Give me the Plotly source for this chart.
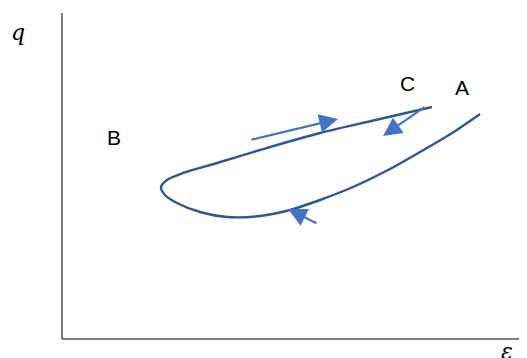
import plotly.graph_objects as go

# Loop curve (epsilon, q) in chart units, from A end round through B to C end
curve_eps = [418, 391, 358, 325, 291, 258, 228, 198, 165, 138, 115, 103, 99, 105, 121, 155, 198, 258, 318, 370]
curve_q = [225, 206.5, 187, 168.5, 152, 139, 129, 123, 122, 127, 136, 144, 152, 159, 166, 176, 189, 206, 220, 232]

# Direction arrows: tail -> head
arrow_tail_eps = [188, 364, 256]
arrow_tail_q = [199, 233, 115]
arrow_head_eps = [276, 321, 226]
arrow_head_q = [220, 203, 130]

# Point labels
label_text = ["A", "B", "C"]
label_eps = [400, 52, 345]
label_q = [252, 202, 256]

fig = go.Figure()
fig.add_trace(go.Scatter(
    x=curve_eps, y=curve_q, mode="lines",
    line=dict(color="#2F5597", width=2.4, shape="spline", smoothing=0.9),
    hoverinfo="skip", showlegend=False,
))

anns = []
for tx, ty, hx, hy in zip(arrow_tail_eps, arrow_tail_q, arrow_head_eps, arrow_head_q):
    anns.append(dict(x=hx, y=hy, ax=tx, ay=ty, xref="x", yref="y", axref="x", ayref="y",
                     text="", showarrow=True, arrowhead=2, arrowsize=1.7, arrowwidth=2.2,
                     arrowcolor="#4472C4"))
for t, x, y in zip(label_text, label_eps, label_q):
    anns.append(dict(x=x, y=y, xref="x", yref="y", text=t, showarrow=False,
                     font=dict(family="Liberation Sans, Arial", size=21, color="black")))
anns.append(dict(x=-44, y=307, xref="x", yref="y", text="<i>q</i>", showarrow=False,
                 font=dict(family="DejaVu Serif, Liberation Serif", size=22, color="black")))
anns.append(dict(x=445, y=-12, xref="x", yref="y", text="<i>ε</i>", showarrow=False,
                 font=dict(family="DejaVu Serif, Liberation Serif", size=22, color="black")))

shapes = [
    dict(type="line", x0=0, y0=0, x1=0, y1=326, xref="x", yref="y",
         line=dict(color="black", width=1)),
    dict(type="line", x0=0, y0=0, x1=466, y1=0, xref="x", yref="y",
         line=dict(color="black", width=1)),
]

fig.update_layout(
    width=519, height=350,
    margin=dict(l=0, r=0, t=0, b=0),
    paper_bgcolor="white", plot_bgcolor="white",
    xaxis=dict(range=[-54, 465], visible=False, fixedrange=True),
    yaxis=dict(range=[-19, 331], visible=False, fixedrange=True),
    annotations=anns, shapes=shapes,
)

fig.write_html("out.html")
